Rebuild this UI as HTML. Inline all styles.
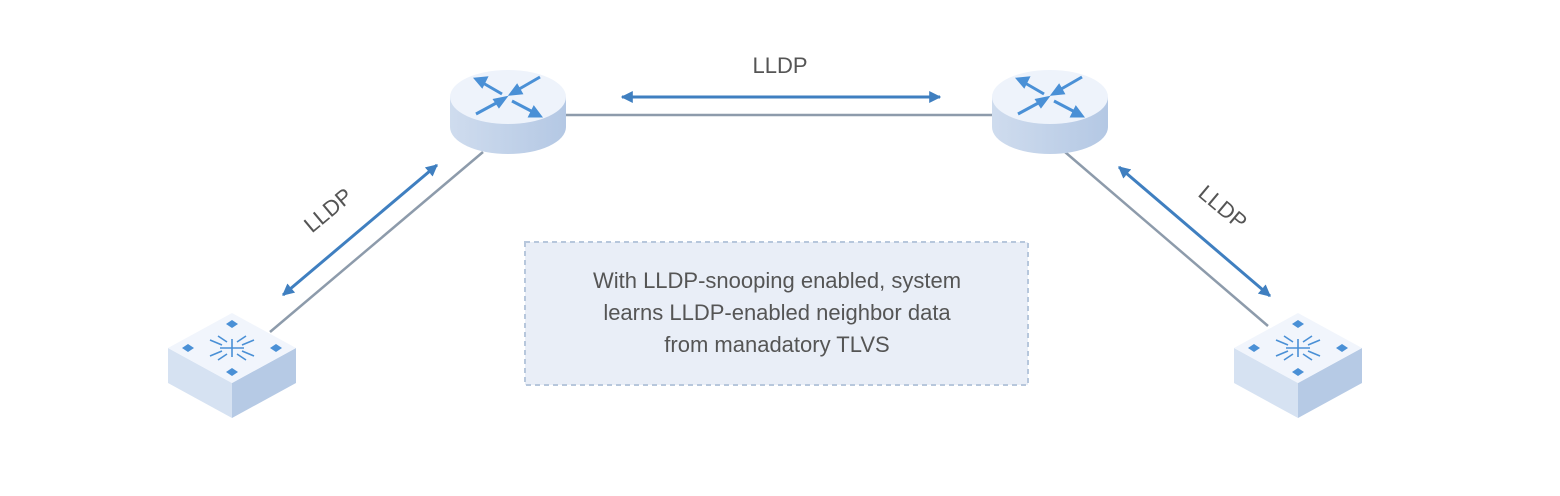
<!DOCTYPE html>
<html><head><style>
body{margin:0;background:#fff;width:1560px;height:491px;overflow:hidden;font-family:"Liberation Sans",sans-serif}
</style></head><body>
<svg width="1560" height="491" viewBox="0 0 1560 491" xmlns="http://www.w3.org/2000/svg">
<defs>
<marker id="a" viewBox="0 0 10 10" refX="9" refY="5" markerWidth="4" markerHeight="4" orient="auto-start-reverse"><path d="M0,0L10,5L0,10z" fill="#3f7fc0"/></marker>
<linearGradient id="rb" x1="0" x2="1"><stop offset="0" stop-color="#cfdcee"/><stop offset="1" stop-color="#b4c8e4"/></linearGradient>
<g id="router">
<path d="M-58,0 V30 A58,27 0 0 0 58,30 V0 Z" fill="url(#rb)"/>
<ellipse cx="0" cy="0" rx="58" ry="27" fill="#eef3fb"/>
<g stroke="#4a90d6" stroke-width="3" fill="#4a90d6">
<line x1="-6" y1="-3" x2="-25" y2="-14"/><path d="M-32,-18 L-22,-19 L-26,-11z"/>
<line x1="6" y1="-5" x2="32" y2="-20"/><path d="M3,-3 L13,-4 L9,-11z"/>
<line x1="-8" y1="4" x2="-32" y2="17"/><path d="M-3,1 L-13,3 L-9,9z"/>
<line x1="4" y1="4" x2="25" y2="15"/><path d="M32,19 L22,19 L26,11z"/>
</g>
</g>
<g id="sw">
<path d="M-64,0 L0,35 L0,70 L-64,35Z" fill="#d6e2f2"/>
<path d="M64,0 L0,35 L0,70 L64,35Z" fill="#b6cae5"/>
<path d="M0,-35 L64,0 L0,35 L-64,0Z" fill="#f1f5fc"/>
<g fill="#4a90d6">
<path d="M0,-28l6,4l-6,4l-6,-4z"/><path d="M0,20l6,4l-6,4l-6,-4z"/>
<path d="M-44,-4l6,4l-6,4l-6,-4z"/><path d="M44,-4l6,4l-6,4l-6,-4z"/>
</g>
<g stroke="#4a90d6" stroke-width="1.6">
<line x1="-12" y1="0" x2="12" y2="0"/><line x1="0" y1="-9" x2="0" y2="9"/>
<line x1="-22" y1="-8" x2="-10" y2="-3"/><line x1="22" y1="-8" x2="10" y2="-3"/>
<line x1="-22" y1="8" x2="-10" y2="3"/><line x1="22" y1="8" x2="10" y2="3"/>
<line x1="-14" y1="-12" x2="-5" y2="-6"/><line x1="14" y1="-12" x2="5" y2="-6"/>
<line x1="-14" y1="12" x2="-5" y2="6"/><line x1="14" y1="12" x2="5" y2="6"/>
</g>
</g>
</defs>
<g stroke="#8d9bab" stroke-width="2.5">
<line x1="566" y1="115" x2="993" y2="115"/>
<line x1="483" y1="152" x2="270" y2="332"/>
<line x1="1065" y1="152" x2="1268" y2="326"/>
</g>
<g stroke="#3f7fc0" stroke-width="3" marker-start="url(#a)" marker-end="url(#a)">
<line x1="622" y1="97" x2="940" y2="97"/>
<line x1="437" y1="165" x2="283" y2="295"/>
<line x1="1119" y1="167" x2="1270" y2="296"/>
</g>
<use href="#router" x="508" y="97"/>
<use href="#router" x="1050" y="97"/>
<use href="#sw" x="232" y="348"/>
<use href="#sw" x="1298" y="348"/>
<g fill="#555" font-size="22">
<text x="780" y="73" text-anchor="middle">LLDP</text>
<text transform="translate(333,216) rotate(-40)" text-anchor="middle">LLDP</text>
<text transform="translate(1218,213) rotate(40)" text-anchor="middle">LLDP</text>
</g>
<rect x="525" y="242" width="503" height="143" fill="#e9eef7" stroke="#b7c7dc" stroke-width="2" stroke-dasharray="5,4"/>
<g fill="#555" font-size="22" text-anchor="middle">
<text x="777" y="288">With LLDP-snooping enabled, system</text>
<text x="777" y="320">learns LLDP-enabled neighbor data</text>
<text x="777" y="352">from manadatory TLVS</text>
</g>
</svg>
</body></html>
